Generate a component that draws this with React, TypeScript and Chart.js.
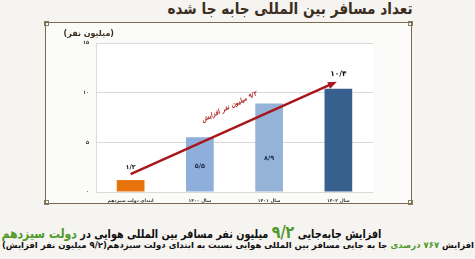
import { useEffect, useRef } from "react";
import { Chart, registerables } from "chart.js";

Chart.register(...registerables);

const categories = ["ابتدای دولت سیزدهم", "سال ۱۴۰۰", "سال ۱۴۰۱", "سال ۱۴۰۲"];
const passengers = [1.2, 5.5, 8.9, 10.4];
const valueLabels = ["۱/۲", "۵/۵", "۸/۹", "۱۰/۴"];
const yTickValues = [0, 5, 10, 15];
const yTickLabels = ["۰", "۵", "۱۰", "۱۵"];
const arrowFrom = { category: 0, value: 1.8 };
const arrowTo = { category: 3, value: 11.1 };
const arrowLabel = "۹/۲ میلیون نفر افزایش";

const FONT = "'DejaVu Sans', sans-serif";
const barColors = ["#e8720c", "#8eaedc", "#95b3d7", "#37608f"];
const labelColors = ["#222222", "#1f2d4a", "#1f2d4a", "#111111"];
const labelPlacement = [
  { mode: "above", offset: 13, size: 6.5 },
  { mode: "inside", frac: 0.476, size: 6.5 },
  { mode: "inside", frac: 0.385, size: 6.5 },
  { mode: "above", offset: 15, size: 7.5 },
];

const valueLabelPlugin = {
  id: "valueLabels",
  afterDatasetsDraw(chart: any) {
    const ctx = chart.ctx;
    const meta = chart.getDatasetMeta(0);
    const ys = chart.scales.y;
    ctx.save();
    ctx.textAlign = "center";
    ctx.textBaseline = "middle";
    meta.data.forEach((bar: any, i: number) => {
      const p: any = labelPlacement[i];
      const yy = p.mode === "above" ? bar.y - p.offset : ys.getPixelForValue(passengers[i] * p.frac);
      ctx.font = `bold ${p.size}px ${FONT}`;
      ctx.fillStyle = labelColors[i];
      ctx.fillText(valueLabels[i], bar.x, yy);
    });
    ctx.restore();
  },
};

const arrowPlugin = {
  id: "growthArrow",
  afterDatasetsDraw(chart: any) {
    const ctx = chart.ctx;
    const xs = chart.scales.x;
    const ys = chart.scales.y;
    const x1 = xs.getPixelForValue(arrowFrom.category);
    const y1 = ys.getPixelForValue(arrowFrom.value);
    const x2 = xs.getPixelForValue(arrowTo.category) - 1.5;
    const y2 = ys.getPixelForValue(arrowTo.value);
    const ang = Math.atan2(y2 - y1, x2 - x1);
    const head = 9;
    const hw = 3.6;
    ctx.save();
    ctx.strokeStyle = "#a8161c";
    ctx.fillStyle = "#a8161c";
    ctx.lineWidth = 2.4;
    ctx.beginPath();
    ctx.moveTo(x1, y1);
    ctx.lineTo(x2 - Math.cos(ang) * head * 0.8, y2 - Math.sin(ang) * head * 0.8);
    ctx.stroke();
    ctx.beginPath();
    ctx.moveTo(x2, y2);
    const bx = x2 - Math.cos(ang) * head;
    const by = y2 - Math.sin(ang) * head;
    ctx.lineTo(bx + Math.sin(ang) * hw, by - Math.cos(ang) * hw);
    ctx.lineTo(bx - Math.sin(ang) * hw, by + Math.cos(ang) * hw);
    ctx.closePath();
    ctx.fill();
    const t = 0.52;
    const cx = x1 + (x2 - x1) * t;
    const cy = y1 + (y2 - y1) * t;
    const nx = Math.sin(ang);
    const ny = -Math.cos(ang);
    ctx.translate(cx + nx * 21, cy + ny * 21);
    ctx.rotate(ang - 0.04);
    ctx.font = `italic bold 6.3px ${FONT}`;
    ctx.textAlign = "center";
    ctx.textBaseline = "middle";
    ctx.direction = "rtl";
    ctx.fillStyle = "#b01c1c";
    ctx.fillText(arrowLabel, 0, 0);
    ctx.restore();
  },
};

const plotBgPlugin = {
  id: "plotBg",
  beforeDraw(chart: any) {
    const { ctx, chartArea } = chart;
    ctx.save();
    ctx.fillStyle = "#ffffff";
    ctx.fillRect(chartArea.left, chartArea.top, chartArea.right - chartArea.left, chartArea.bottom - chartArea.top);
    ctx.restore();
  },
};

export default function App() {
  const ref = useRef<HTMLCanvasElement>(null);
  useEffect(() => {
    if (!ref.current) return;
    const chart = new Chart(ref.current, {
      type: "bar",
      data: {
        labels: categories,
        datasets: [
          {
            data: passengers,
            backgroundColor: barColors,
            categoryPercentage: 1,
            barPercentage: 0.4,
          },
        ],
      },
      options: {
        animation: false,
        responsive: false,
        maintainAspectRatio: false,
        events: [],
        layout: { padding: { left: 0, right: 39, top: 20, bottom: 0 } },
        plugins: { legend: { display: false }, tooltip: { enabled: false } },
        scales: {
          x: {
            grid: { display: false, drawTicks: false },
            border: { display: false },
            afterFit: (s: any) => {
              s.height = 12;
            },
            ticks: {
              padding: 6,
              color: "#333333",
              font: { family: FONT, size: 4.5, weight: "bold" },
              maxRotation: 0,
              autoSkip: false,
            },
          },
          y: {
            min: 0,
            max: 15,
            afterFit: (s: any) => {
              s.width = 51;
            },
            afterBuildTicks: (s: any) => {
              s.ticks = yTickValues.map((v) => ({ value: v }));
            },
            grid: { color: "#d9d9d9", lineWidth: 1, drawTicks: false },
            border: { display: true, color: "#dcdcdc" },
            ticks: {
              padding: 7,
              color: "#333333",
              font: { family: FONT, size: 5, weight: "bold" },
              callback: (v: any) => yTickLabels[yTickValues.indexOf(Number(v))] ?? "",
            },
          },
        },
      },
      plugins: [plotBgPlugin, valueLabelPlugin, arrowPlugin],
    });
    return () => chart.destroy();
  }, []);

  const base: any = { position: "absolute", fontFamily: FONT, fontWeight: "bold", whiteSpace: "nowrap", direction: "rtl" };
  const green = "#4f9a2c";
  const corner = (style: any) => (
    <div style={{ position: "absolute", width: 3, height: 3, border: "1px solid #8a7a5e", ...style }} />
  );

  return (
    <div style={{ position: "absolute", left: 0, top: 0, width: 475, height: 259, overflow: "hidden", background: "#f5f4f1" }}>
      <div style={{ ...base, right: 62, top: 0, fontSize: 15.5, lineHeight: "19px", color: "#3b2e20", transform: "scaleX(0.88)", transformOrigin: "right center" }}>
        تعداد مسافر بین المللی جابه جا شده
      </div>
      <div style={{ position: "absolute", left: 45, top: 22, width: 367, height: 182, boxSizing: "border-box", border: "1.5px solid #7a6a50", background: "#fbfbf9" }} />
      {corner({ left: 44, top: 21 })}
      {corner({ left: 408, top: 21 })}
      {corner({ left: 44, top: 200 })}
      {corner({ left: 408, top: 200 })}
      <canvas ref={ref} width={367} height={181} style={{ position: "absolute", left: 45, top: 23, width: 367, height: 181 }} />
      <div style={{ ...base, right: 361, top: 29, fontSize: 8, lineHeight: "10px", color: "#3b2e20" }}>(میلیون نفر)</div>
      <div style={{ ...base, right: 94, top: 223, fontSize: 11.5, lineHeight: "18px", color: "#111", transform: "scaleX(0.84)", transformOrigin: "right center" }}>
        افزایش جابه‌جایی <span style={{ color: green, fontSize: 17 }}>۹/۲</span> میلیون نفر مسافر بین المللی هوایی در{" "}
        <span style={{ color: green, fontSize: 13 }}>دولت سیزدهم</span>
      </div>
      <div style={{ ...base, right: 1, top: 240, fontSize: 8.5, lineHeight: "11px", color: "#111" }}>
        افزایش <span style={{ color: green }}>۷۶۷ درصدی</span> جا به جایی مسافر بین المللی هوایی نسبت به ابتدای دولت سیزدهم(۹/۲ میلیون نفر افزایش)
      </div>
    </div>
  );
}
